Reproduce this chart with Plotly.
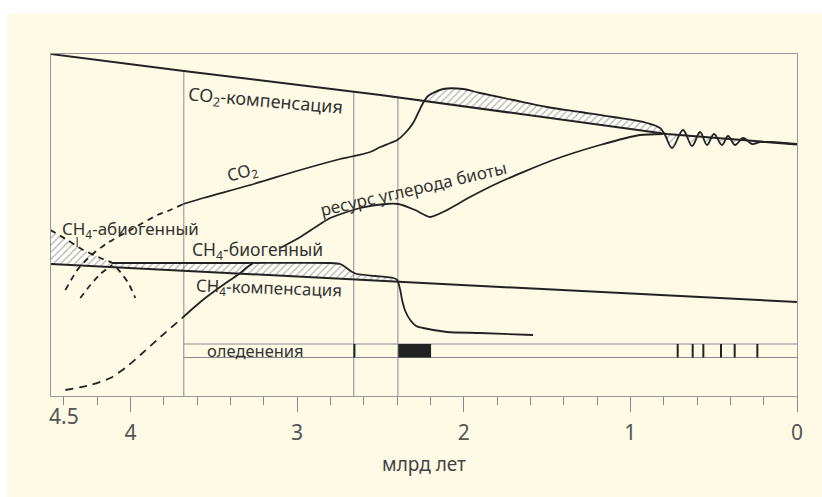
import numpy as np
import plotly.graph_objects as go

# ---------------- data (x: billion years ago, y: relative level) ----------------
co2_comp_age = [4.48, 3.68, 2.50, 0.78, 0.0]
co2_comp_val = [342.0, 325.0, 301.0, 262.0, 251.5]

ch4_comp_age = [4.48, 0.0]
ch4_comp_val = [132.0, 94.0]

co2_age = [3.683, 3.563, 3.281, 2.981, 2.741, 2.561, 2.501, 2.441, 2.399, 2.351, 2.304, 2.274,
           2.244, 2.214, 2.184, 2.124, 2.004, 1.902, 1.704, 1.500, 1.302, 1.104, 0.900, 0.822,
           0.792, 0.750, 0.684, 0.630, 0.582, 0.540, 0.498, 0.450, 0.414, 0.372, 0.324, 0.270,
           0.222, 0.162, 0.072, 0.0]
co2_val = [192, 198, 211, 226, 237, 244, 249, 253, 256, 263, 273, 283,
           293, 300, 303, 307, 307, 303, 296, 289, 284, 279, 273, 268,
           261, 248, 266, 250, 264, 251, 262, 251, 260, 251, 258, 252,
           254, 254, 253, 252]

co2_dash_age = [4.391, 4.319, 4.241, 4.139, 4.00, 3.839, 3.761, 3.683]
co2_dash_val = [106, 126, 140, 153, 166, 181, 186, 192]

biota_age = [3.101, 2.981, 2.801, 2.621, 2.471, 2.393, 2.292, 2.202, 2.112, 1.962, 1.782,
             1.464, 1.182, 0.942, 0.804]
biota_val = [148, 159, 178, 188, 192, 192, 186, 179, 185, 199, 214, 236, 251, 261, 262]

ch4_abio_age = [4.481, 4.379, 4.283, 4.181, 4.109, 4.061, 4.013, 3.971]
ch4_abio_val = [166, 156, 146, 138, 133, 124, 113, 98]

ch4_bio_dash_age = [4.391, 4.241, 4.121, 4.031, 3.941, 3.821, 3.683]
ch4_bio_dash_val = [6, 11, 18, 28, 41, 59, 79]

ch4_bio_rise_age = [3.683, 3.581, 3.503, 3.401, 3.341, 3.299, 3.263]
ch4_bio_rise_val = [79, 94, 104, 116, 123, 129, 133]

ch4_bio_age = [4.109, 3.701, 3.311, 2.801, 2.741, 2.711, 2.669, 2.640, 2.531, 2.423, 2.399,
               2.381, 2.370, 2.351, 2.321, 2.286, 2.244, 2.100, 1.902, 1.584]
ch4_bio_val = [133, 133, 133, 133, 132, 129, 124, 122, 120, 118, 116,
               106, 96, 85, 76, 70, 68, 64, 63, 61]

ch4_side_dash_age = [4.301, 4.241, 4.181, 4.109]
ch4_side_dash_val = [98, 111, 122, 131]

event_ages = [3.68, 2.66, 2.395]

glac_band = [38.5, 52.0]
glac_band_age = [3.683, 0.0]
glac_start = [2.662, 2.393, 0.722, 0.632, 0.568, 0.462, 0.380, 0.244]
glac_end = [2.650, 2.196, 0.710, 0.620, 0.556, 0.450, 0.368, 0.232]

tick_vals = [4, 3, 2, 1, 0]
tick_text = ["4", "3", "2", "1", "0"]

# ---------------- styling ----------------
INK = "#222222"
GREY = "#8a8a8a"
CREAM = "#fefae6"
FONT = "Noto Sans"
hatch = dict(shape="/", size=5, solidity=0.25, fgcolor="#666666", bgcolor="rgba(255,255,255,0.75)")

fig = go.Figure()

def interp_desc(ages_src, vals_src, ages):
    a = np.asarray(ages_src)[::-1]
    v = np.asarray(vals_src)[::-1]
    return np.interp(ages, a, v)

def hatch_poly(xs, top, bottom):
    fig.add_trace(go.Scatter(x=list(xs) + list(xs[::-1]), y=list(top) + list(bottom[::-1]),
                             fill="toself", mode="lines", line=dict(width=0),
                             fillcolor="rgba(0,0,0,0)", fillpattern=hatch,
                             hoverinfo="skip", showlegend=False))

# --- hatched: CH4 abiogenic above compensation
ab_a = np.array(ch4_abio_age[:5])
hatch_poly(ab_a, np.array(ch4_abio_val[:5]), interp_desc(ch4_comp_age, ch4_comp_val, ab_a))

# --- hatched: CH4 biogenic above compensation
bi_a = np.array(ch4_bio_age[:11])
hatch_poly(bi_a, np.array(ch4_bio_val[:11]), interp_desc(ch4_comp_age, ch4_comp_val, bi_a))

# --- hatched: CO2 vs CO2 compensation (after ~2.25 Ga)
grid = np.linspace(2.40, 0.25, 600)
c_co2 = interp_desc(co2_age, co2_val, grid)
c_cmp = interp_desc(co2_comp_age, co2_comp_val, grid)
start = int(np.argmax(c_co2 > c_cmp))
hatch_poly(grid[start:], c_co2[start:], c_cmp[start:])

# --- vertical event lines
for a in event_ages:
    top = float(interp_desc(co2_comp_age, co2_comp_val, [a])[0])
    fig.add_trace(go.Scatter(x=[a, a], y=[0, top], mode="lines", line=dict(color=GREY, width=1),
                             hoverinfo="skip", showlegend=False))

# --- glaciation band
for yv in glac_band:
    fig.add_trace(go.Scatter(x=glac_band_age, y=[yv, yv], mode="lines", line=dict(color=GREY, width=1),
                             hoverinfo="skip", showlegend=False))
for s, e in zip(glac_start, glac_end):
    fig.add_shape(type="rect", xref="x", yref="y", x0=s, x1=e, y0=glac_band[0], y1=glac_band[1],
                  fillcolor=INK, line=dict(width=0))

def line(x, y, dash="solid", w=2.0, shape="spline", sm=0.6):
    fig.add_trace(go.Scatter(x=x, y=y, mode="lines",
                             line=dict(color=INK, width=w, dash=dash, shape=shape, smoothing=sm),
                             hoverinfo="skip", showlegend=False))

line(co2_comp_age, co2_comp_val, w=2.0, shape="linear")
line(ch4_comp_age, ch4_comp_val, w=2.0, shape="linear")
line(co2_age, co2_val, w=1.8, sm=1.0)
line(co2_dash_age, co2_dash_val, dash="6px,5px", w=1.8)
line(biota_age, biota_val, w=1.8)
line(ch4_abio_age, ch4_abio_val, dash="6px,5px", w=1.8)
line(ch4_bio_dash_age, ch4_bio_dash_val, dash="8px,6px", w=1.8)
line(ch4_bio_rise_age, ch4_bio_rise_val, w=1.8)
line(ch4_bio_age, ch4_bio_val, w=1.8)
line(ch4_side_dash_age, ch4_side_dash_val, dash="6px,5px", w=1.8)
# leader tick for abiogenic label
line([4.32, 4.32], [149, 159], w=1, shape="linear")

# --- labels
def label(text, x, y, angle=0, size=17):
    fig.add_annotation(x=x, y=y, xref="x", yref="y", text=text, showarrow=False, textangle=angle,
                       font=dict(family=FONT, size=size, color="#333333"))

label("CO<sub>2</sub>-компенсация", 3.19, 295, angle=5, size=18)
label("CO<sub>2</sub>", 3.33, 224, angle=-15)
label("ресурс углерода биоты", 2.30, 208, angle=-13, size=17)
label("CH<sub>4</sub>-абиогенный", 4.00, 167)
label("CH<sub>4</sub>-биогенный", 3.24, 146, size=17.5)
label("CH<sub>4</sub>-компенсация", 3.17, 108, angle=2)
label("оледенения", 3.25, 46, size=16.5)

# "4.5" sits just outside the left frame edge
fig.add_annotation(x=-0.005, y=-36 / 342, xref="paper", yref="paper", text="4.5", showarrow=False,
                   font=dict(family=FONT, size=21, color="#555555"))

# white strips at top and left of page
fig.add_shape(type="rect", xref="paper", yref="paper", x0=-0.07, x1=1.04, y0=(396 - 13) / 342, y1=1.2,
              fillcolor="white", line=dict(width=0))
fig.add_shape(type="rect", xref="paper", yref="paper", x0=-0.07, x1=(7 - 51) / 746, y0=-0.35, y1=1.2,
              fillcolor="white", line=dict(width=0))

fig.update_xaxes(range=[4.477, 0], tickvals=tick_vals, ticktext=tick_text, ticks="outside",
                 ticklen=15, tickcolor=GREY, tickwidth=1,
                 minor=dict(dtick=0.2, tick0=0, ticks="outside", ticklen=8, tickcolor=GREY, tickwidth=1),
                 showline=True, linecolor="#999999", linewidth=1, mirror=True,
                 showgrid=False, zeroline=False, ticklabelstandoff=3,
                 tickfont=dict(family=FONT, size=21, color="#555555"),
                 title=dict(text="млрд лет", font=dict(family=FONT, size=19, color="#444444"), standoff=12))
fig.update_yaxes(range=[0, 342], showticklabels=False, ticks="", showline=True, linecolor="#999999",
                 linewidth=1, mirror=True, showgrid=False, zeroline=False)

fig.update_layout(width=822, height=497, margin=dict(l=51, r=25, t=54, b=101),
                  paper_bgcolor=CREAM, plot_bgcolor=CREAM, showlegend=False)

fig.write_html("out.html")
